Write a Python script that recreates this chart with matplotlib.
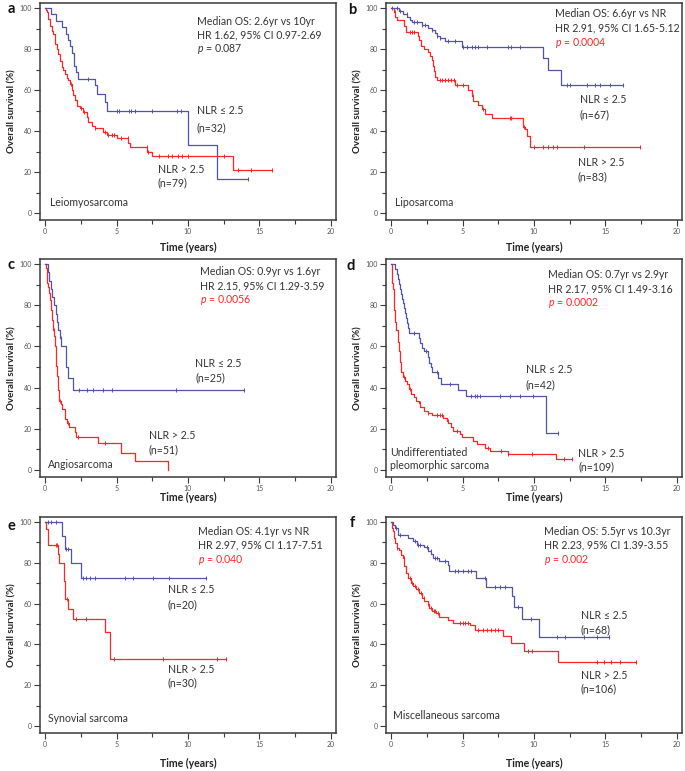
import numpy as np
import matplotlib
matplotlib.use("Agg")
import matplotlib.pyplot as plt
from matplotlib.ticker import MultipleLocator

plt.rcParams['font.family'] = ['Lato', 'DejaVu Sans']
plt.rcParams['mathtext.fontset'] = 'custom'
plt.rcParams['mathtext.rm'] = 'Lato'
plt.rcParams['mathtext.it'] = 'Lato:italic'

# ---------------- DATA ----------------
panel_letters = ["a", "b", "c", "d", "e", "f"]
histologies = ["Leiomyosarcoma", "Liposarcoma", "Angiosarcoma",
               "Undifferentiated\npleomorphic sarcoma", "Synovial sarcoma",
               "Miscellaneous sarcoma"]
median_os = ["Median OS: 2.6yr vs 10yr", "Median OS: 6.6yr vs NR",
             "Median OS: 0.9yr vs 1.6yr", "Median OS: 0.7yr vs 2.9yr",
             "Median OS: 4.1yr vs NR", "Median OS: 5.5yr vs 10.3yr"]
hr_ci = ["HR 1.62, 95% CI 0.97-2.69", "HR 2.91, 95% CI 1.65-5.12",
         "HR 2.15, 95% CI 1.29-3.59", "HR 2.17, 95% CI 1.49-3.16",
         "HR 2.97, 95% CI 1.17-7.51", "HR 2.23, 95% CI 1.39-3.55"]
p_values = ["0.087", "0.0004", "0.0056", "0.0002", "0.040", "0.002"]
p_significant = [False, True, True, True, True, True]
n_low = [32, 67, 25, 42, 20, 68]
n_high = [79, 83, 51, 109, 30, 106]

# NLR <= 2.5 (blue) / NLR > 2.5 (red): event times, survival after event, censor times
a_low_t = [0.45, 0.75, 1.2, 1.5, 1.6, 1.75, 1.9, 2.0, 2.05, 2.15, 2.3, 3.5, 3.66, 4.2, 4.36, 10.0, 12.0]
a_low_s = [96.9, 93.8, 90.6, 87.5, 84.4, 81.3, 78.1, 75.0, 71.9, 68.8, 65.6, 62.5, 58.3, 54.2, 50.0, 33.3, 16.7]
a_low_c = [3.0, 5.0, 5.2, 5.9, 6.0, 6.3, 7.5, 9.2, 9.5, 14.2]
a_high_t = [0.05, 0.12, 0.23, 0.35, 0.47, 0.58, 0.7, 0.82, 0.93, 1.05, 1.17, 1.28, 1.4, 1.52, 1.63, 1.75,
            1.86, 1.98, 2.1, 2.21, 2.45, 2.68, 2.91, 3.03, 3.26, 3.5, 4.08, 4.31, 5.01, 5.83, 5.94, 7.11,
            7.46, 13.17]
a_high_s = [99.0, 98.0, 94.7, 91.4, 89.0, 87.4, 82.5, 80.0, 77.7, 74.4, 71.2, 69.6, 68.0, 66.0, 64.7, 62.8,
            60.2, 57.4, 55.0, 52.1, 51.5, 49.4, 46.9, 44.5, 42.6, 41.3, 39.6, 38.0, 36.4, 34.0, 32.4, 30.0,
            27.8, 21.0]
a_high_c = [1.8, 2.5, 2.7, 3.5, 4.2, 4.4, 4.7, 4.85, 5.3, 5.8, 7.1, 7.2, 8.0, 8.6, 8.9, 9.3, 9.6, 10.0,
            12.5, 13.5, 14.4, 15.9]

b_low_t = [0.53, 0.81, 1.11, 1.35, 1.46, 2.16, 2.62, 2.86, 3.09, 3.2, 3.44, 3.79, 4.95, 10.64, 10.99, 11.92]
b_low_s = [98.5, 97.0, 95.5, 94.0, 93.1, 91.8, 90.5, 89.3, 88.0, 86.6, 85.3, 83.8, 81.2, 75.5, 69.8, 62.7]
b_low_c = [0.4, 0.65, 1.1, 1.6, 1.8, 2.16, 2.4, 2.86, 3.2, 3.44, 4.0, 4.5, 5.05, 5.3, 5.65, 5.9, 6.1,
           6.7, 8.2, 8.4, 9.0, 12.3, 12.5, 13.7, 14.3, 14.6, 15.3, 16.2]
b_high_t = [0.19, 0.3, 0.42, 0.93, 1.07, 1.86, 1.97, 2.11, 2.32, 2.56, 2.74, 2.86, 2.93, 3.02, 3.09, 3.21,
            4.48, 5.41, 5.64, 5.76, 6.11, 6.34, 6.57, 7.04, 9.2, 9.36, 9.48, 9.71]
b_high_s = [98.0, 95.6, 94.0, 91.5, 88.5, 86.6, 84.2, 81.7, 80.0, 78.8, 76.5, 74.8, 71.9, 69.4, 66.2, 65.0,
            62.6, 60.1, 57.2, 54.7, 52.6, 50.7, 48.2, 46.2, 42.0, 40.8, 37.6, 32.4]
b_high_c = [0.1, 0.25, 1.3, 1.45, 1.6, 3.4, 3.6, 3.8, 4.0, 4.2, 4.4, 4.6, 5.0, 5.7, 6.4, 8.3, 8.4, 9.3,
            10.0, 10.6, 11.0, 11.3, 11.6, 13.5, 17.4]

c_low_t = [0.2, 0.25, 0.4, 0.5, 0.6, 0.8, 0.85, 0.9, 1.05, 1.15, 1.45, 1.5, 1.63, 1.98]
c_low_s = [96.0, 92.0, 88.0, 84.0, 80.0, 76.0, 72.0, 68.0, 64.0, 60.0, 55.0, 50.0, 44.6, 39.0]
c_low_c = [1.1, 2.35, 2.96, 3.38, 4.08, 4.7, 9.16, 13.95]
c_high_t = [0.05, 0.12, 0.19, 0.28, 0.35, 0.42, 0.47, 0.54, 0.63, 0.7, 0.77, 0.86, 0.93, 1.0, 1.1, 1.21,
            1.4, 1.52, 1.68, 2.1, 2.17, 3.73, 5.29, 6.29, 8.62]
c_high_s = [98.0, 90.7, 89.0, 85.8, 82.6, 77.8, 73.0, 68.1, 64.9, 60.0, 50.4, 45.6, 39.1, 33.5, 31.9, 29.5,
            25.0, 23.0, 20.9, 18.5, 15.8, 12.9, 8.5, 4.2, 0.0]
c_high_c = [0.6, 1.05, 1.6, 2.3, 4.2]

d_low_t = [0.3, 0.42, 0.49, 0.56, 0.65, 0.72, 0.79, 0.84, 0.93, 1.0, 1.07, 1.11, 1.18, 1.23, 1.97, 2.04,
           2.16, 2.28, 2.62, 2.69, 2.79, 2.86, 3.32, 3.48, 4.72, 5.25, 10.87]
d_low_s = [97.6, 95.2, 92.9, 90.5, 88.1, 85.7, 83.3, 81.0, 78.6, 76.2, 73.8, 71.4, 69.0, 66.7, 64.3, 61.9,
           59.5, 58.0, 55.0, 52.2, 49.8, 47.4, 44.6, 42.0, 39.0, 35.8, 17.9]
d_low_c = [1.6, 2.45, 3.2, 4.1, 5.6, 5.85, 6.0, 6.2, 7.6, 8.3, 9.0, 9.9, 11.68]
d_high_t = [0.05, 0.09, 0.14, 0.19, 0.23, 0.3, 0.37, 0.46, 0.56, 0.65, 0.72, 0.81, 1.0, 1.11, 1.23, 1.39,
            1.58, 1.77, 1.93, 2.04, 2.28, 2.56, 2.86, 3.67, 3.9, 4.02, 4.2, 4.37, 4.83, 4.95, 5.76, 5.99,
            6.57, 6.92, 8.2, 11.57]
d_high_s = [97.0, 90.6, 88.1, 82.4, 77.6, 71.9, 67.8, 62.1, 58.0, 52.4, 47.5, 45.0, 43.4, 41.8, 39.3, 36.9,
            35.6, 33.7, 32.4, 30.4, 28.8, 27.5, 26.7, 25.5, 23.9, 22.6, 20.7, 19.0, 17.7, 15.8, 14.1, 12.8,
            10.9, 9.3, 8.0, 5.2]
d_high_c = [0.9, 1.3, 2.0, 2.6, 3.2, 3.45, 3.6, 4.0, 4.6, 6.8, 7.7, 8.2, 9.85, 12.1, 12.68]

e_low_t = [1.2, 1.4, 1.8, 2.53]
e_low_s = [93.3, 86.7, 80.0, 72.7]
e_low_c = [0.19, 0.43, 0.77, 1.48, 1.64, 2.65, 2.84, 3.17, 3.47, 5.59, 6.13, 7.54, 8.64, 11.27]
e_high_t = [0.05, 0.23, 0.9, 1.0, 1.3, 1.4, 1.6, 1.95, 4.18, 4.53]
e_high_s = [96.7, 88.9, 84.5, 80.0, 71.1, 62.2, 57.6, 52.4, 46.0, 32.7]
e_high_c = [0.75, 0.85, 1.55, 2.2, 2.9, 4.85, 8.24, 12.04, 12.68]

f_low_t = [0.16, 0.3, 0.47, 1.17, 1.57, 1.8, 2.34, 2.57, 2.81, 2.97, 3.39, 3.98, 4.09, 5.96, 6.67, 8.49,
           8.58, 9.19, 10.34]
f_low_s = [98.5, 97.0, 93.5, 92.0, 90.6, 89.0, 87.6, 86.0, 84.3, 82.6, 81.0, 79.0, 76.0, 72.5, 68.0, 64.0,
           58.5, 52.6, 43.8]
f_low_c = [0.35, 0.6, 1.65, 1.9, 2.0, 2.5, 2.8, 3.1, 3.2, 3.8, 4.45, 4.7, 5.05, 5.4, 5.6, 6.55, 7.3, 7.6,
           7.95, 8.9, 9.8, 11.6, 12.2, 13.5, 14.4, 15.27]
f_high_t = [0.05, 0.16, 0.23, 0.3, 0.4, 0.58, 0.7, 0.82, 0.94, 1.05, 1.22, 1.4, 1.57, 1.75, 1.99, 2.18,
            2.34, 2.57, 2.69, 2.88, 3.16, 3.35, 3.98, 4.33, 5.5, 5.85, 7.84, 8.42, 9.29, 11.7]
f_high_s = [97.0, 95.4, 92.2, 89.8, 87.3, 86.5, 84.0, 82.4, 78.4, 75.1, 72.7, 70.2, 68.6, 67.0, 65.4, 62.9,
            61.3, 60.0, 58.0, 56.4, 55.3, 53.7, 52.0, 50.7, 49.4, 47.2, 44.2, 40.7, 36.9, 31.5]
f_high_c = [0.45, 0.9, 1.3, 1.5, 1.7, 1.9, 2.1, 2.3, 2.6, 2.8, 3.0, 3.1, 3.3, 4.8, 5.0, 5.2, 5.35, 6.1,
            6.4, 6.7, 7.0, 7.3, 7.5, 9.6, 9.85, 14.4, 14.9, 15.4, 16.0, 17.15]

low_curves = [(a_low_t, a_low_s, a_low_c), (b_low_t, b_low_s, b_low_c), (c_low_t, c_low_s, c_low_c),
              (d_low_t, d_low_s, d_low_c), (e_low_t, e_low_s, e_low_c), (f_low_t, f_low_s, f_low_c)]
high_curves = [(a_high_t, a_high_s, a_high_c), (b_high_t, b_high_s, b_high_c),
               (c_high_t, c_high_s, c_high_c), (d_high_t, d_high_s, d_high_c),
               (e_high_t, e_high_s, e_high_c), (f_high_t, f_high_s, f_high_c)]

# ---------------- LAYOUT / STYLE ----------------
W, H = 685, 771
BLUE = "#5252aa"
RED = "#ff2626"
TXT = "#333333"
FS = 7.6

col_x = [(40, 336), (386, 682)]
row_y = [(3, 220), (259, 477), (517, 733)]
xlab_y = [247, 497, 763]

stats_pos = [(10.6, [93.7, 86.7, 79.9]), (11.45, [97.2, 90.2, 83.0]), (10.84, [96.3, 89.5, 82.6]),
             (10.98, [95.1, 88.1, 81.3]), (10.7, [95.2, 88.7, 81.6]), (10.7, [95.4, 88.9, 81.6])]
low_pos = [(10.6, 50.0, 41.7), (13.2, 55.5, 47.8), (10.5, 51.5, 44.8),
           (9.43, 48.6, 41.5), (8.6, 66.8, 59.4), (13.26, 54.0, 47.2)]
high_pos = [(7.9, 21.4, 14.6), (13.07, 24.5, 17.9), (7.27, 16.6, 9.7),
            (13.1, 8.1, 1.5), (8.6, 27.9, 21.3), (13.26, 24.7, 18.2)]
hist_pos = [(0.35, 5.3), (0.3, 5.2), (0.23, 2.9), (-0.05, 5.2), (0.18, 3.6), (0.16, 5.2)]
letter_pos = [(11, 9), (352, 10), (11, 265), (351, 266), (11, 526), (352, 523)]


def km(ax, t, s, c, color):
    tt = np.concatenate([[0.0], t])
    ss = np.concatenate([[100.0], s])
    t_end = max(tt[-1], max(c))
    if t_end > tt[-1]:
        tt = np.concatenate([tt, [t_end]])
        ss = np.concatenate([ss, [ss[-1]]])
    ax.step(tt, ss, where='post', color=color, lw=0.9, zorder=3)
    idx = np.searchsorted(np.concatenate([[0.0], t]), c, side='right') - 1
    lev = np.concatenate([[100.0], s])[idx]
    ax.plot(c, lev, ls='none', marker='|', ms=3.2, mew=0.7, color=color, zorder=3)


fig = plt.figure(figsize=(W / 100, H / 100), dpi=100)

for i in range(6):
    r, cidx = divmod(i, 2)
    x0, x1 = col_x[cidx]
    y0, y1 = row_y[r]
    ax = fig.add_axes([x0 / W, 1 - y1 / H, (x1 - x0) / W, (y1 - y0) / H])
    ax.set_xlim(-0.35, 20.35)
    ax.set_ylim(-3.4, 102.5)
    for sp in ax.spines.values():
        sp.set_color("#3a3a3a")
        sp.set_linewidth(1.1)
    ax.xaxis.set_major_locator(MultipleLocator(5))
    ax.xaxis.set_minor_locator(MultipleLocator(2.5))
    ax.yaxis.set_major_locator(MultipleLocator(20))
    ax.yaxis.set_minor_locator(MultipleLocator(10))
    ax.tick_params(which='both', direction='out', colors="#3a3a3a", labelcolor="#555555",
                   labelsize=5, width=0.8, pad=2)
    ax.tick_params(which='major', length=4)
    ax.tick_params(which='minor', length=3)

    km(ax, *high_curves[i], RED)
    km(ax, *low_curves[i], BLUE)

    sx, sy = stats_pos[i]
    ax.text(sx, sy[0], median_os[i], fontsize=FS, color=TXT, va='center', ha='left')
    ax.text(sx, sy[1], hr_ci[i], fontsize=FS, color=TXT, va='center', ha='left')
    pc = RED if p_significant[i] else TXT
    ax.text(sx, sy[2], r"$\it{p}$" + " = " + p_values[i], fontsize=FS, color=pc, va='center', ha='left')

    lx, ly1, ly2 = low_pos[i]
    ax.text(lx, ly1, "NLR \u2264 2.5", fontsize=FS, color=TXT, va='center', ha='left')
    ax.text(lx, ly2, "(n=%d)" % n_low[i], fontsize=FS, color=TXT, va='center', ha='left')
    hx, hy1, hy2 = high_pos[i]
    ax.text(hx, hy1, "NLR > 2.5", fontsize=FS, color=TXT, va='center', ha='left')
    ax.text(hx, hy2, "(n=%d)" % n_high[i], fontsize=FS, color=TXT, va='center', ha='left')

    gx, gy = hist_pos[i]
    ax.text(gx, gy, histologies[i], fontsize=FS, color=TXT, va='center', ha='left', linespacing=1.25)

    # axis titles
    yc = 1 - (y0 + y1) / 2 / H
    ylx = 12 if cidx == 0 else 358
    fig.text(ylx / W, yc, "Overall survival (%)", rotation=90, fontsize=7.0, fontweight='bold',
             color="#222222", ha='center', va='center')
    xc = (x0 + 5 + (x1 - 5)) / 2 / W
    fig.text(xc, 1 - xlab_y[r] / H, "Time (years)", fontsize=7.6, fontweight='bold',
             color="#222222", ha='center', va='center')
    lxp, lyp = letter_pos[i]
    fig.text(lxp / W, 1 - lyp / H, panel_letters[i], fontsize=10.5, fontweight='bold',
             color="#111111", ha='center', va='center')

fig.savefig("out.png", dpi=100)
